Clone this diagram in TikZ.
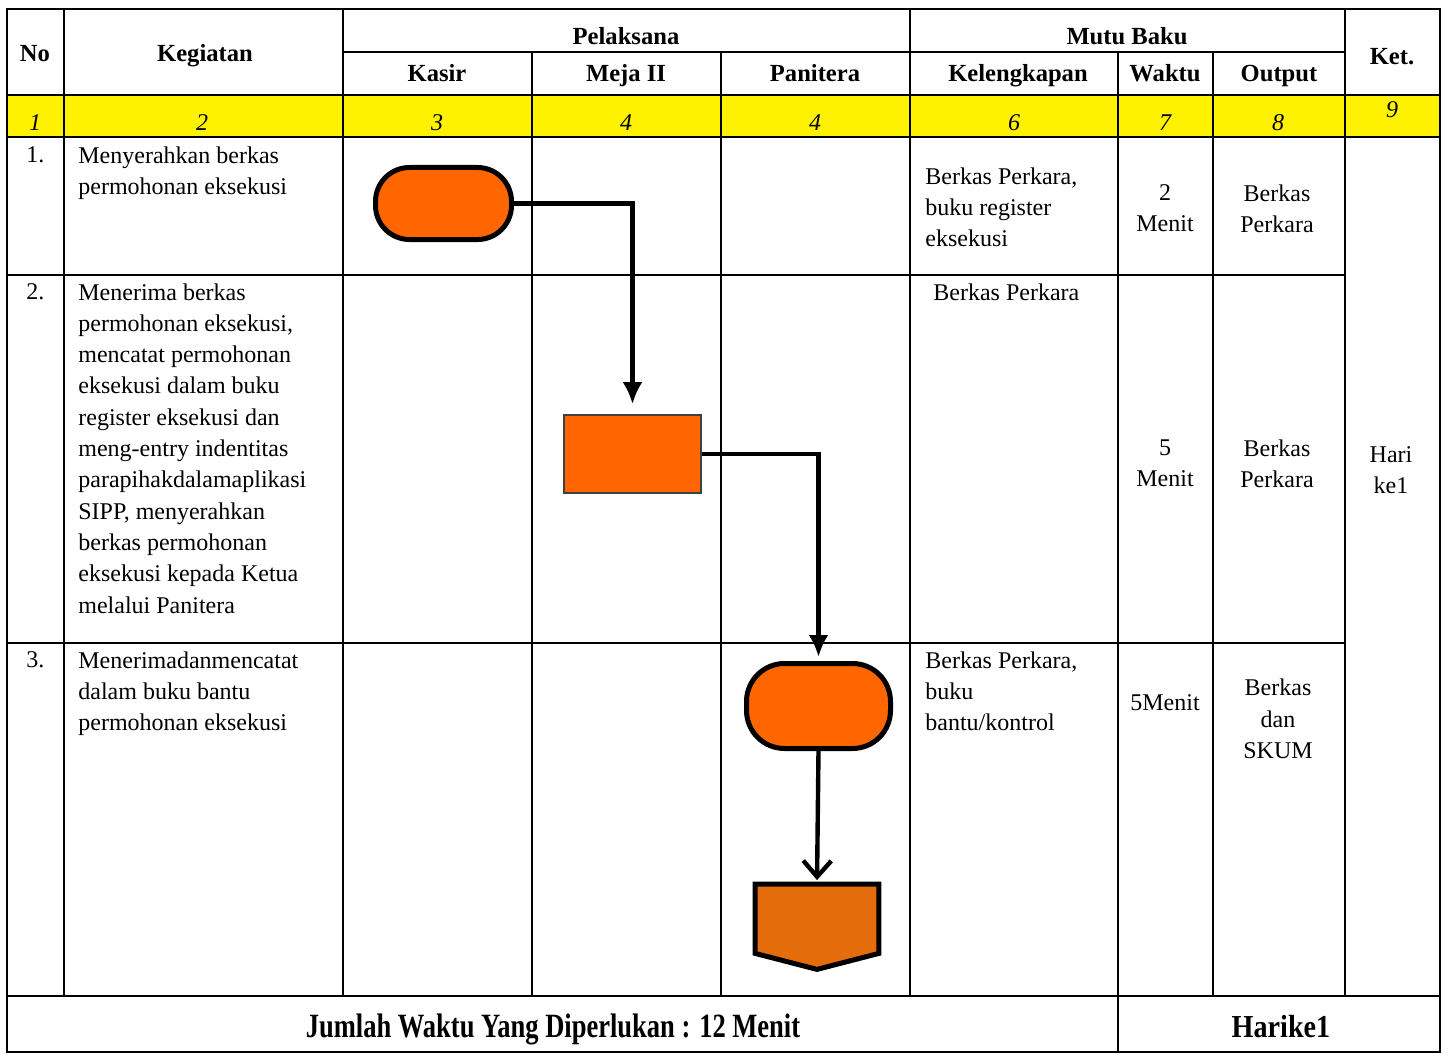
\documentclass[tikz,border=0pt]{standalone}
\usepackage{fontspec}
\setmainfont{Liberation Serif}
\usepackage{graphicx}
\usetikzlibrary{arrows.meta}
\definecolor{orangevif}{HTML}{FF6600}
\definecolor{orangefonce}{HTML}{E46C0A}

\begin{document}
\begin{tikzpicture}[x=0.5pt,y=-0.5pt]
% Styles
\tikzstyle{grille}=[line width=1.4pt]
\tikzstyle{entete}=[font=\fontsize{12.3}{14}\selectfont\bfseries,inner sep=0pt,anchor=base]
\tikzstyle{numero}=[font=\fontsize{12}{14}\selectfont\itshape,inner sep=0pt,anchor=base]
\tikzstyle{texte}=[font=\fontsize{12}{15.65}\selectfont,align=left,anchor=north west,inner sep=0pt]
\tikzstyle{centre}=[font=\fontsize{12}{15.65}\selectfont,align=center,inner sep=0pt]
\tikzstyle{terminal}=[draw,line width=2.5pt,fill=orangevif,rounded corners=17pt]
\tikzstyle{processus}=[draw=black!75,line width=0.8pt,fill=orangevif]
\tikzstyle{connecteur}=[draw,line width=2.5pt,fill=orangefonce,line join=miter]
\tikzstyle{fleche}=[-{Latex[length=11pt,width=10pt]},line width=2.2pt]
\tikzstyle{fleche ouverte}=[-{Straight Barb[length=8pt,width=14pt]},line width=2.2pt]
% Colonnes et lignes
\def\ColA{7}   \def\ColB{64}   \def\ColC{343}  \def\ColD{532}  \def\ColE{721}
\def\ColF{910} \def\ColG{1118} \def\ColH{1213} \def\ColI{1345} \def\ColJ{1440}
\def\LigA{9}   \def\LigB{52}   \def\LigC{95}   \def\LigD{137}
\def\LigE{275} \def\LigF{643}  \def\LigG{996}  \def\LigH{1052}
\useasboundingbox (0,0) rectangle (1447,1054);
% Tableau
\fill[yellow] (\ColA,\LigC) rectangle (\ColJ,\LigD);
\draw[grille] (\ColA,\LigA) rectangle (\ColJ,\LigH);
\draw[grille] (\ColC,\LigB) -- (\ColI,\LigB);
\draw[grille] (\ColA,\LigC) -- (\ColJ,\LigC);
\draw[grille] (\ColA,\LigD) -- (\ColJ,\LigD);
\draw[grille] (\ColA,\LigE) -- (\ColI,\LigE);
\draw[grille] (\ColA,\LigF) -- (\ColI,\LigF);
\draw[grille] (\ColA,\LigG) -- (\ColJ,\LigG);
\foreach \x in {\ColB,\ColC,\ColF,\ColI} \draw[grille] (\x,\LigA) -- (\x,\LigG);
\foreach \x in {\ColD,\ColE,\ColG,\ColH} \draw[grille] (\x,\LigB) -- (\x,\LigG);
\draw[grille] (\ColG,\LigG) -- (\ColG,\LigH);
% En-tetes
\node[entete] (enNo) at (35,62) {No};
\node[entete] (enKeg) at (205,62) {Kegiatan};
\node[entete] (enPel) at (626,45) {Pelaksana};
\node[entete] (enKas) at (437,82) {Kasir};
\node[entete] (enMeja) at (626,82) {Meja II};
\node[entete] (enPan) at (815,82) {Panitera};
\node[entete] (enMutu) at (1127,45) {Mutu Baku};
\node[entete] (enKel) at (1018,82) {Kelengkapan};
\node[entete] (enWak) at (1165,82) {Waktu};
\node[entete] (enOut) at (1279,82) {Output};
\node[entete] (enKet) at (1392,65) {Ket.};
% Numeros
\node[numero] (numA) at (35,131) {1};
\node[numero] (numB) at (202,131) {2};
\node[numero] (numC) at (437,131) {3};
\node[numero] (numD) at (626,131) {4};
\node[numero] (numE) at (815,131) {4};
\node[numero] (numF) at (1014,131) {6};
\node[numero] (numG) at (1165,131) {7};
\node[numero] (numH) at (1278,131) {8};
\node[numero] (numI) at (1392,118) {9};
% Ligne 1
\node[texte] (noA) at (26,146) {1.};
\node[texte] (kegA) at (78,146) {Menyerahkan berkas\\permohonan  eksekusi};
\node[texte] (kelA) at (925,167) {Berkas Perkara,\\buku register\\eksekusi};
\node[centre] (wakA) at (1165,208) {2\\Menit};
\node[centre] (outA) at (1277,209) {Berkas\\Perkara};
% Ligne 2
\node[texte] (noB) at (26,283) {2.};
\node[texte] (kegB) at (78,283) {Menerima berkas\\permohonan eksekusi,\\mencatat permohonan\\eksekusi dalam buku\\register eksekusi dan\\meng-entry indentitas\\parapihakdalamaplikasi\\SIPP, menyerahkan\\berkas permohonan\\eksekusi kepada Ketua\\melalui Panitera};
\node[texte] (kelB) at (933,283) {Berkas Perkara};
\node[centre] (wakB) at (1165,463) {5\\Menit};
\node[centre] (outB) at (1277,464) {Berkas\\Perkara};
\node[centre] (ket) at (1391,470) {Hari\\ke1};
% Ligne 3
\node[texte] (noC) at (26,651) {3.};
\node[texte] (kegC) at (78,651) {Menerimadanmencatat\\dalam buku bantu\\permohonan  eksekusi};
\node[texte] (kelC) at (925,651) {Berkas Perkara,\\buku\\bantu/kontrol};
\node[centre] (wakC) at (1165,703) {5Menit};
\node[centre] (outC) at (1278,719) {Berkas\\dan\\SKUM};
% Total
\node[font=\fontsize{17}{20}\selectfont\bfseries,inner sep=0pt,anchor=base] (total) at (553,1037) {\scalebox{0.78}[1]{Jumlah Waktu Yang Diperlukan : 12 Menit}};
\node[font=\fontsize{16}{18}\selectfont\bfseries,inner sep=0pt,anchor=base] (hari) at (1281,1037) {\scalebox{0.88}[1]{Harike1}};
% Symboles
\node[terminal,minimum width=68pt,minimum height=36pt] (T1) at (443.5,203.5) {};
\node[processus,minimum width=68.5pt,minimum height=39pt] (P) at (632.5,454) {};
\node[terminal,minimum width=72pt,minimum height=42.5pt,rounded corners=19pt] (T2) at (818.5,706) {};
\node[inner sep=0pt,minimum width=61.5pt,minimum height=42.25pt] (C) at (817,926.75) {};
\path[connecteur] (C.north west) -- (C.north east) -- ([yshift=8pt]C.south east)
  -- (C.south) -- ([yshift=8pt]C.south west) -- cycle;
% Arcs
\draw[fleche,shorten >=5pt] (T1.east) -| (P.north);
\draw[fleche,shorten >=2pt] (P.east) -| (T2.north);
\draw[fleche ouverte,shorten >=2pt] (T2.south) -- (C.north);
\end{tikzpicture}
\end{document}
